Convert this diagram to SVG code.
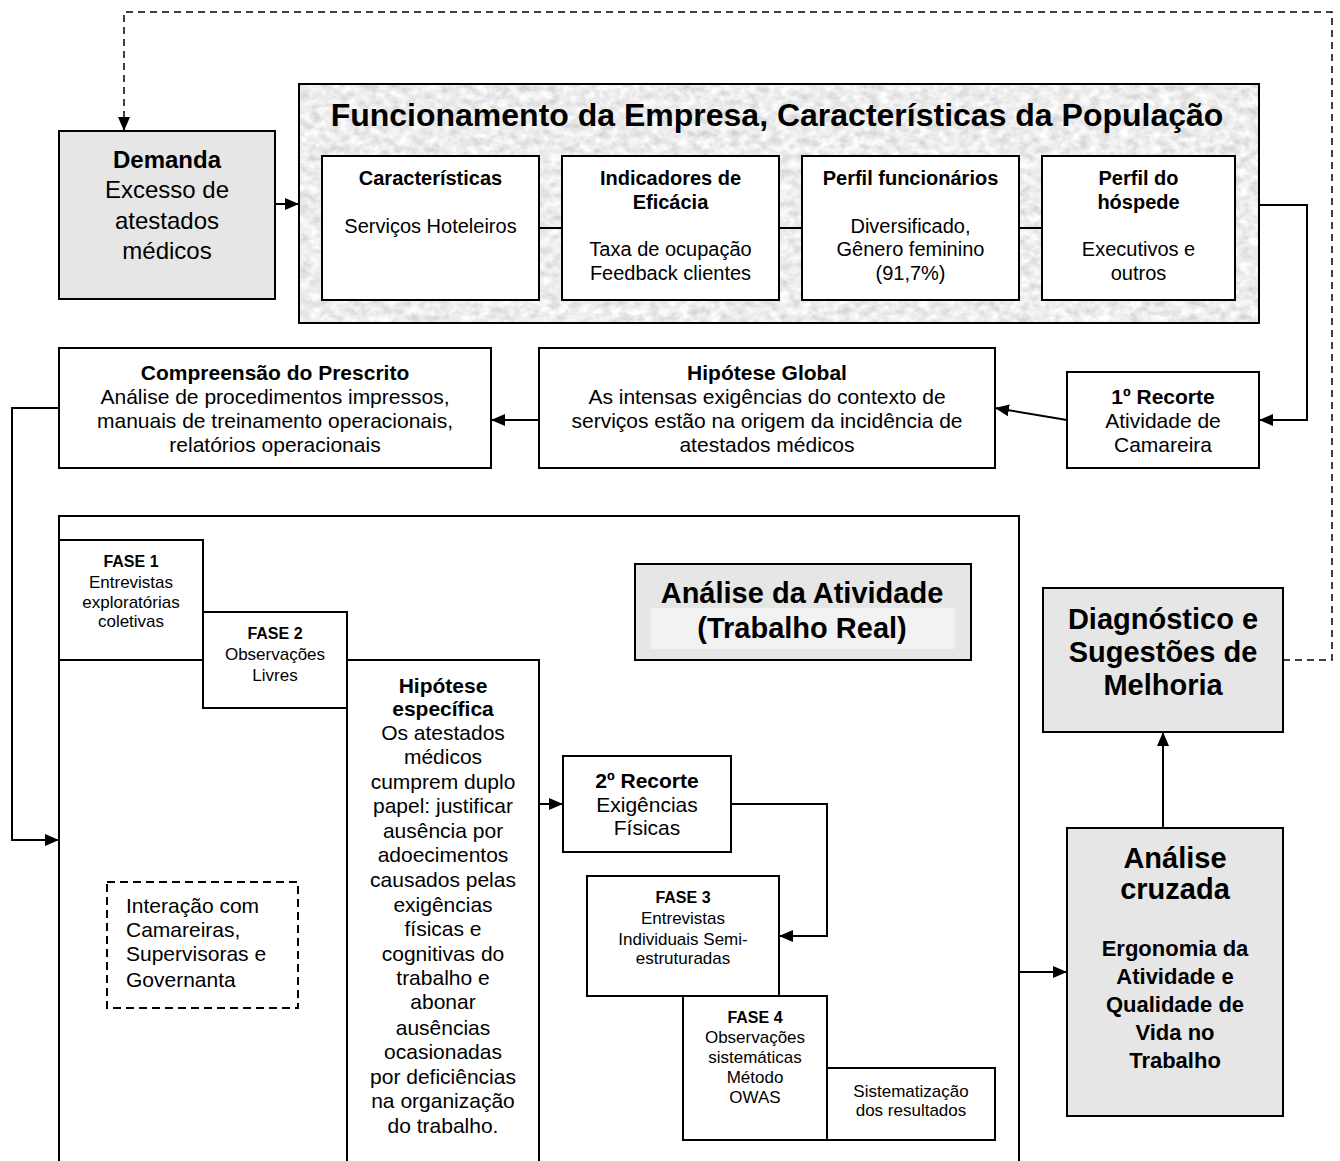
<svg xmlns="http://www.w3.org/2000/svg" width="1340" height="1161" viewBox="0 0 1340 1161">
  <defs>
    <marker id="arrow" markerWidth="14" markerHeight="12" refX="14" refY="6" orient="auto" markerUnits="userSpaceOnUse">
      <path d="M0,0 L14,6 L0,12 z" fill="#000"/>
    </marker>
    <filter id="granite" x="0" y="0" width="100%" height="100%" filterUnits="objectBoundingBox">
      <feTurbulence type="fractalNoise" baseFrequency="0.1 0.13" numOctaves="4" seed="7" result="noise"/>
      <feColorMatrix in="noise" type="matrix" values="0.55 0 0 0 0.57  0.55 0 0 0 0.57  0.55 0 0 0 0.57  0 0 0 0 1"/>
    </filter>
    <style>
      text { font-family: "Liberation Sans", Arial, Helvetica, sans-serif; fill: #000; }
      .c { text-anchor: middle; }
      .b { font-weight: bold; }
      .box { fill: #fff; stroke: #000; stroke-width: 2; }
      .grey { fill: #e6e6e6; stroke: #000; stroke-width: 2; }
      .line { fill: none; stroke: #000; stroke-width: 2; }
      .dash { fill: none; stroke: #000; stroke-width: 1.5; stroke-dasharray: 7 5; }
      .f20 { font-size: 20px; }
      .f21 { font-size: 21px; }
      .f17 { font-size: 17px; }
      .f16 { font-size: 16px; }
    </style>
  </defs>

  <rect width="1340" height="1161" fill="#fff"/>

  <!-- Demanda -->
  <g id="demanda">
    <rect class="grey" x="59" y="131" width="216" height="168"/>
    <text class="c b" x="167" y="168" font-size="24">Demanda</text>
    <text class="c" x="167" y="198" font-size="24">Excesso de</text>
    <text class="c" x="167" y="229" font-size="24">atestados</text>
    <text class="c" x="167" y="259" font-size="24">médicos</text>
  </g>

  <!-- Funcionamento da Empresa frame -->
  <g id="funcionamento">
    <rect x="299" y="84" width="960" height="239" fill="#dcdcdc" filter="url(#granite)"/>
    <rect x="299" y="84" width="960" height="239" fill="none" stroke="#000" stroke-width="2"/>
    <text class="c b" x="777" y="126" font-size="32">Funcionamento da Empresa, Características da População</text>
  </g>

  <g id="caracteristicas">
    <rect class="box" x="322" y="156" width="217" height="144"/>
    <text class="c b f20" x="430.5" y="185">Características</text>
    <text class="c f20" x="430.5" y="233">Serviços Hoteleiros</text>
  </g>

  <g id="indicadores">
    <rect class="box" x="562" y="156" width="217" height="144"/>
    <text class="c b f20" x="670.5" y="185">Indicadores de</text>
    <text class="c b f20" x="670.5" y="209">Eficácia</text>
    <text class="c f20" x="670.5" y="256">Taxa de ocupação</text>
    <text class="c f20" x="670.5" y="280">Feedback clientes</text>
  </g>

  <g id="perfil-funcionarios">
    <rect class="box" x="802" y="156" width="217" height="144"/>
    <text class="c b f20" x="910.5" y="185">Perfil funcionários</text>
    <text class="c f20" x="910.5" y="233">Diversificado,</text>
    <text class="c f20" x="910.5" y="256">Gênero feminino</text>
    <text class="c f20" x="910.5" y="280">(91,7%)</text>
  </g>

  <g id="perfil-hospede">
    <rect class="box" x="1042" y="156" width="193" height="144"/>
    <text class="c b f20" x="1138.5" y="185">Perfil do</text>
    <text class="c b f20" x="1138.5" y="209">hóspede</text>
    <text class="c f20" x="1138.5" y="256">Executivos e</text>
    <text class="c f20" x="1138.5" y="280">outros</text>
  </g>

  <!-- Second row -->
  <g id="compreensao">
    <rect class="box" x="59" y="348" width="432" height="120"/>
    <text class="c b f21" x="275" y="380">Compreensão do Prescrito</text>
    <text class="c f21" x="275" y="404">Análise de procedimentos impressos,</text>
    <text class="c f21" x="275" y="428">manuais de treinamento operacionais,</text>
    <text class="c f21" x="275" y="452">relatórios operacionais</text>
  </g>

  <g id="hipotese-global">
    <rect class="box" x="539" y="348" width="456" height="120"/>
    <text class="c b f21" x="767" y="380">Hipótese Global</text>
    <text class="c f21" x="767" y="404">As intensas exigências do contexto de</text>
    <text class="c f21" x="767" y="428">serviços estão na origem da incidência de</text>
    <text class="c f21" x="767" y="452">atestados médicos</text>
  </g>

  <g id="recorte1">
    <rect class="box" x="1067" y="372" width="192" height="96"/>
    <text class="c b f21" x="1163" y="404">1º Recorte</text>
    <text class="c f21" x="1163" y="428">Atividade de</text>
    <text class="c f21" x="1163" y="452">Camareira</text>
  </g>

  <!-- Análise da Atividade frame -->
  <g id="analise-frame">
    <path class="line" d="M59,1170 V516 H1019 V1170"/>
  </g>

  <g id="hipotese-especifica">
    <rect class="box" x="347" y="660" width="192" height="520"/>
    <text class="c b f21" x="443" y="693">Hipótese</text>
    <text class="c b f21" x="443" y="716">específica</text>
    <text class="c f21" x="443" y="740">Os atestados</text>
    <text class="c f21" x="443" y="764">médicos</text>
    <text class="c f21" x="443" y="789">cumprem duplo</text>
    <text class="c f21" x="443" y="813">papel: justificar</text>
    <text class="c f21" x="443" y="838">ausência por</text>
    <text class="c f21" x="443" y="862">adoecimentos</text>
    <text class="c f21" x="443" y="887">causados pelas</text>
    <text class="c f21" x="443" y="912">exigências</text>
    <text class="c f21" x="443" y="936">físicas e</text>
    <text class="c f21" x="443" y="961">cognitivas do</text>
    <text class="c f21" x="443" y="985">trabalho e</text>
    <text class="c f21" x="443" y="1009">abonar</text>
    <text class="c f21" x="443" y="1035">ausências</text>
    <text class="c f21" x="443" y="1059">ocasionadas</text>
    <text class="c f21" x="443" y="1084">por deficiências</text>
    <text class="c f21" x="443" y="1108">na organização</text>
    <text class="c f21" x="443" y="1133">do trabalho.</text>
  </g>

  <g id="fase1">
    <rect class="box" x="59" y="540" width="144" height="120"/>
    <text class="c b f16" x="131" y="567">FASE 1</text>
    <text class="c f17" x="131" y="588">Entrevistas</text>
    <text class="c f17" x="131" y="608">exploratórias</text>
    <text class="c f17" x="131" y="627">coletivas</text>
  </g>

  <g id="fase2">
    <rect class="box" x="203" y="612" width="144" height="96"/>
    <text class="c b f16" x="275" y="639">FASE 2</text>
    <text class="c f17" x="275" y="660">Observações</text>
    <text class="c f17" x="275" y="681">Livres</text>
  </g>

  <g id="analise-atividade">
    <rect class="grey" x="635" y="564" width="336" height="96"/>
    <rect x="651" y="608" width="304" height="41" fill="#f2f2f2"/>
    <text class="c b" x="802" y="603" font-size="29">Análise da Atividade</text>
    <text class="c b" x="802" y="638" font-size="29">(Trabalho Real)</text>
  </g>

  <g id="recorte2">
    <rect class="box" x="563" y="756" width="168" height="96"/>
    <text class="c b f21" x="647" y="788">2º Recorte</text>
    <text class="c f21" x="647" y="812">Exigências</text>
    <text class="c f21" x="647" y="835">Físicas</text>
  </g>

  <g id="fase3">
    <rect class="box" x="587" y="876" width="192" height="120"/>
    <text class="c b f16" x="683" y="903">FASE 3</text>
    <text class="c f17" x="683" y="924">Entrevistas</text>
    <text class="c f17" x="683" y="945">Individuais Semi-</text>
    <text class="c f17" x="683" y="964">estruturadas</text>
  </g>

  <g id="fase4">
    <rect class="box" x="683" y="996" width="144" height="144"/>
    <text class="c b f16" x="755" y="1023">FASE 4</text>
    <text class="c f17" x="755" y="1043">Observações</text>
    <text class="c f17" x="755" y="1063">sistemáticas</text>
    <text class="c f17" x="755" y="1083">Método</text>
    <text class="c f17" x="755" y="1103">OWAS</text>
  </g>

  <g id="sistematizacao">
    <rect class="box" x="827" y="1068" width="168" height="72"/>
    <text class="c f17" x="911" y="1097">Sistematização</text>
    <text class="c f17" x="911" y="1116">dos resultados</text>
  </g>

  <g id="interacao">
    <rect x="107" y="882" width="191" height="126" fill="#fff" stroke="#000" stroke-width="2" stroke-dasharray="8 5"/>
    <text class="f21" x="126" y="913">Interação com</text>
    <text class="f21" x="126" y="937">Camareiras,</text>
    <text class="f21" x="126" y="961">Supervisoras e</text>
    <text class="f21" x="126" y="987">Governanta</text>
  </g>

  <g id="diagnostico">
    <rect class="grey" x="1043" y="588" width="240" height="144"/>
    <text class="c b" x="1163" y="629" font-size="29">Diagnóstico e</text>
    <text class="c b" x="1163" y="662" font-size="29">Sugestões de</text>
    <text class="c b" x="1163" y="695" font-size="29">Melhoria</text>
  </g>

  <g id="analise-cruzada">
    <rect class="grey" x="1067" y="828" width="216" height="288"/>
    <text class="c b" x="1175" y="868" font-size="29">Análise</text>
    <text class="c b" x="1175" y="899" font-size="29">cruzada</text>
    <text class="c b" x="1175" y="956" font-size="22">Ergonomia da</text>
    <text class="c b" x="1175" y="984" font-size="22">Atividade e</text>
    <text class="c b" x="1175" y="1012" font-size="22">Qualidade de</text>
    <text class="c b" x="1175" y="1040" font-size="22">Vida no</text>
    <text class="c b" x="1175" y="1068" font-size="22">Trabalho</text>
  </g>

  <!-- Connectors -->
  <g id="connectors">
    <path class="dash" d="M1283,660 H1332 V12 H124 V131" marker-end="url(#arrow)"/>
    <path class="line" d="M275,204 H299" marker-end="url(#arrow)"/>
    <path class="line" d="M539,228 H562"/>
    <path class="line" d="M779,228 H802"/>
    <path class="line" d="M1019,228 H1042"/>
    <path class="line" d="M1259,205 H1307 V420 H1259" marker-end="url(#arrow)"/>
    <path class="line" d="M1067,420 L995,408" marker-end="url(#arrow)"/>
    <path class="line" d="M539,420 H491" marker-end="url(#arrow)"/>
    <path class="line" d="M59,408 H12 V840 H59" marker-end="url(#arrow)"/>
    <path class="line" d="M539,804 H563" marker-end="url(#arrow)"/>
    <path class="line" d="M731,804 H827 V936 H779" marker-end="url(#arrow)"/>
    <path class="line" d="M1019,972 H1067" marker-end="url(#arrow)"/>
    <path class="line" d="M1163,828 V732" marker-end="url(#arrow)"/>
  </g>
</svg>
